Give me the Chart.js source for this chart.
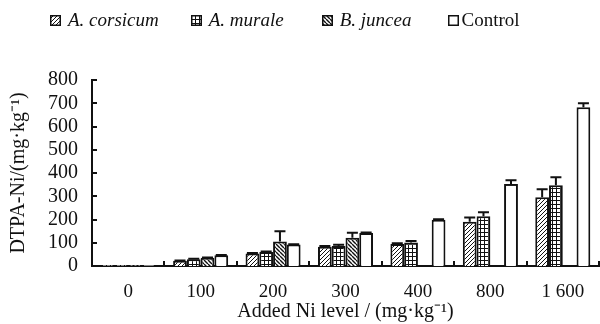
<!DOCTYPE html>
<html>
<head>
<meta charset="utf-8">
<script src="https://cdn.jsdelivr.net/npm/chart.js@4.4.1/dist/chart.umd.min.js"></script>
<style>
  html, body { margin: 0; padding: 0; background: #fff; }
  #wrap { position: relative; width: 600px; height: 324px; }
  #chart1 { position: absolute; left: 0; top: 0; }
  #legend {
    position: absolute; left: 50px; top: 9px; display: flex; align-items: center;
    font-family: 'Liberation Serif', 'Times New Roman', serif; font-size: 19px; color: #111;
  }
  .item { display: flex; align-items: center; }
  .item:nth-child(1) { margin-right: 32px; }
  .item:nth-child(2) { margin-right: 38px; }
  .item:nth-child(3) { margin-right: 37px; }
  .item canvas { margin-right: 7px; }
  .item.plain canvas { margin-right: 2px; }
  .item i { font-style: italic; }
</style>
</head>
<body>
<div id="wrap">
  <canvas id="chart1" width="600" height="324"></canvas>
  <div id="legend"></div>
</div>
<script>
// Data
const categories = ['0', '100', '200', '300', '400', '800', '1 600'];
const seriesNames = ['A. corsicum', 'A. murale', 'B. juncea', 'Control'];
const corsicum = [4, 23, 54, 83, 95, 190, 296];
const corsicumErr = [0, 1, 2, 3, 3, 19, 34];
const murale = [4, 29, 60, 86, 101, 214, 347];
const muraleErr = [0, 2, 2, 5, 6, 17, 35];
const juncea = [4, 36, 105, 122, null, null, null];
const junceaErr = [0, 1, 45, 21, 0, 0, 0];
const control = [4, 46, 92, 142, 199, 353, 683];
const controlErr = [0, 1, 2, 2, 2, 16, 17];
const yMax = 800;
const yStep = 100;

const INK = '#111';
const FONT = "'Liberation Serif', 'Times New Roman', serif";

// small pattern tiles for the hatched bars
function makeTile(kind) {
  const c = document.createElement('canvas');
  const s = 4;
  c.width = s; c.height = s;
  const g = c.getContext('2d');
  g.fillStyle = '#fff';
  g.fillRect(0, 0, s, s);
  g.strokeStyle = INK;
  if (kind === 'slash') {
    g.lineWidth = 1;
    g.beginPath();
    for (let o = -s; o <= s; o += s) { g.moveTo(o, s); g.lineTo(o + s, 0); }
    g.stroke();
  } else if (kind === 'back') {
    g.lineWidth = 1.4;
    g.beginPath();
    for (let o = -s; o <= s; o += s) { g.moveTo(o, 0); g.lineTo(o + s, s); }
    g.stroke();
  } else if (kind === 'grid') {
    g.fillStyle = INK;
    g.fillRect(0, 0, s, 1);
    g.fillRect(0, 0, 1, s);
  }
  return c;
}

const kinds = ['slash', 'grid', 'back', 'none'];
const ctx = document.getElementById('chart1').getContext('2d');
const fills = kinds.map(k => k === 'none' ? '#fff' : ctx.createPattern(makeTile(k), 'repeat'));

const values = [corsicum, murale, juncea, control];
const errors = [corsicumErr, muraleErr, junceaErr, controlErr];

// error bars: stem + top cap only
const errorBars = {
  id: 'errorBars',
  afterDatasetsDraw(chart) {
    const c = chart.ctx;
    const y = chart.scales.y;
    chart.data.datasets.forEach((ds, di) => {
      const meta = chart.getDatasetMeta(di);
      meta.data.forEach((bar, i) => {
        const v = ds.data[i];
        const e = ds.errors[i];
        if (v == null || !e) return;
        const top = y.getPixelForValue(v + e);
        const half = bar.width * 0.4;
        c.save();
        c.strokeStyle = INK;
        c.lineWidth = 2;
        c.beginPath();
        c.moveTo(bar.x, bar.y);
        c.lineTo(bar.x, top);
        c.moveTo(bar.x - half, top);
        c.lineTo(bar.x + half, top);
        c.stroke();
        c.restore();
      });
    });
  }
};

// tick marks pointing into the plot
const innerTicks = {
  id: 'innerTicks',
  afterDraw(chart) {
    const c = chart.ctx;
    const { x, y } = chart.scales;
    const area = chart.chartArea;
    c.save();
    c.strokeStyle = INK;
    c.lineWidth = 2;
    c.beginPath();
    y.ticks.forEach(t => {
      const py = Math.round(y.getPixelForValue(t.value));
      c.moveTo(area.left, py);
      c.lineTo(area.left + 5, py);
    });
    for (let i = 1; i <= categories.length; i++) {
      const px = Math.round(x.getPixelForValue(i - 0.5));
      c.moveTo(px, area.bottom);
      c.lineTo(px, area.bottom - 5);
    }
    c.stroke();
    c.restore();
  }
};

const chart = new Chart(ctx, {
  type: 'bar',
  data: {
    labels: categories,
    datasets: seriesNames.map((name, i) => ({
      label: name,
      data: values[i],
      errors: errors[i],
      backgroundColor: fills[i],
      borderColor: INK,
      borderWidth: 2,
      barPercentage: 1,
      categoryPercentage: 0.76
    }))
  },
  options: {
    responsive: false,
    animation: false,
    layout: { padding: { left: 7, right: 1, top: 80, bottom: 0 } },
    plugins: {
      legend: { display: false },
      tooltip: { enabled: false }
    },
    scales: {
      x: {
        grid: { display: false, drawTicks: false },
        border: { display: true, color: INK, width: 2 },
        ticks: { color: INK, padding: 15, font: { family: FONT, size: 19 }, maxRotation: 0, autoSkip: false },
        title: {
          display: true, text: 'Added Ni level / (mg·kg⁻¹)', color: INK,
          font: { family: FONT, size: 20 }, padding: { top: 0, bottom: 0 }
        },
        afterFit(scale) { scale.height = 58; }
      },
      y: {
        min: 0, max: yMax,
        grid: { display: false, drawTicks: false },
        border: { display: true, color: INK, width: 2 },
        ticks: { stepSize: yStep, color: INK, padding: 14, autoSkip: false, font: { family: FONT, size: 20 } },
        title: {
          display: true, text: 'DTPA-Ni/(mg·kg⁻¹)', color: INK,
          font: { family: FONT, size: 20 }, padding: { top: 0, bottom: 0 }
        },
        afterFit(scale) { scale.width = 85; }
      }
    }
  },
  plugins: [errorBars, innerTicks]
});

// HTML legend built from the datasets
const legend = document.getElementById('legend');
chart.data.datasets.forEach((ds, i) => {
  const item = document.createElement('div');
  item.className = 'item' + (kinds[i] === 'none' ? ' plain' : '');
  const sw = document.createElement('canvas');
  sw.width = 11; sw.height = 11;
  const g = sw.getContext('2d');
  g.fillStyle = kinds[i] === 'none' ? '#fff' : g.createPattern(makeTile(kinds[i]), 'repeat');
  g.fillRect(0, 0, 11, 11);
  g.strokeStyle = INK;
  g.lineWidth = 1.5;
  g.strokeRect(0.75, 0.75, 9.5, 9.5);
  item.appendChild(sw);
  const label = document.createElement(kinds[i] === 'none' ? 'span' : 'i');
  label.textContent = ds.label;
  item.appendChild(label);
  legend.appendChild(item);
});
</script>
</body>
</html>
